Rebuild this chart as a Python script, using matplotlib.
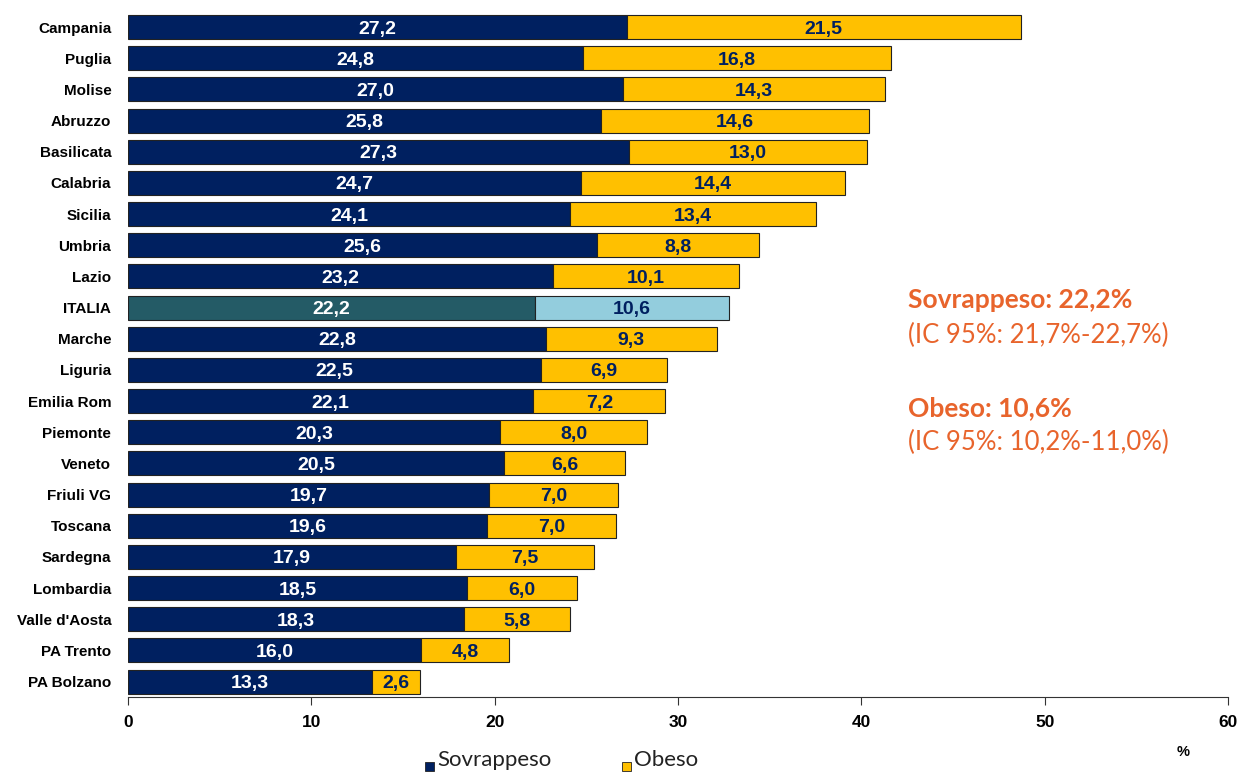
import matplotlib
matplotlib.use("Agg")
import matplotlib.pyplot as plt
from matplotlib.patches import Rectangle

regions = ["Campania", "Puglia", "Molise", "Abruzzo", "Basilicata", "Calabria", "Sicilia",
           "Umbria", "Lazio", "ITALIA", "Marche", "Liguria", "Emilia Rom", "Piemonte",
           "Veneto", "Friuli VG", "Toscana", "Sardegna", "Lombardia", "Valle d'Aosta",
           "PA Trento", "PA Bolzano"]
sovrappeso = [27.2, 24.8, 27.0, 25.8, 27.3, 24.7, 24.1, 25.6, 23.2, 22.2, 22.8, 22.5, 22.1,
              20.3, 20.5, 19.7, 19.6, 17.9, 18.5, 18.3, 16.0, 13.3]
obeso = [21.5, 16.8, 14.3, 14.6, 13.0, 14.4, 13.4, 8.8, 10.1, 10.6, 9.3, 6.9, 7.2,
         8.0, 6.6, 7.0, 7.0, 7.5, 6.0, 5.8, 4.8, 2.6]
xticks = [0, 10, 20, 30, 40, 50, 60]

NAVY = "#002060"
GOLD = "#FFC000"
TEAL = "#245B66"
LBLUE = "#93CDDD"
ORANGE = "#E8642C"

fig = plt.figure(figsize=(12.43, 7.72), dpi=100)
ax = fig.add_axes([0.103, 0.097, 0.885, 0.888])

ypos = list(range(len(regions)))
c1 = [TEAL if r == "ITALIA" else NAVY for r in regions]
c2 = [LBLUE if r == "ITALIA" else GOLD for r in regions]
h = 0.77
ax.barh(ypos, sovrappeso, height=h, color=c1, edgecolor="#222222", linewidth=0.8)
ax.barh(ypos, obeso, left=sovrappeso, height=h, color=c2, edgecolor="#222222", linewidth=0.8)

for y, s, o in zip(ypos, sovrappeso, obeso):
    ax.text(s / 2, y, f"{s:.1f}".replace(".", ","), ha="center", va="center_baseline",
            color="white", fontsize=14, fontweight="bold", family="Liberation Sans")
    ax.text(s + o / 2, y, f"{o:.1f}".replace(".", ","), ha="center", va="center_baseline",
            color=NAVY, fontsize=14, fontweight="bold", family="Liberation Sans")

ax.set_ylim(len(regions) - 0.5, -0.5)
ax.set_xlim(0, 60)
ax.set_yticks(ypos)
ax.set_yticklabels(regions, fontsize=11, fontweight="bold", family="Liberation Sans")
ax.tick_params(axis="y", length=0, pad=12)
ax.set_xticks(xticks)
ax.set_xticklabels([str(t) for t in xticks], fontsize=12.5, fontweight="bold", family="Liberation Sans")
ax.tick_params(axis="x", length=6, width=0.8, direction="out", pad=7, color="#333333")
for sp in ["top", "right", "left"]:
    ax.spines[sp].set_visible(False)
ax.spines["bottom"].set_color("#333333")
ax.spines["bottom"].set_linewidth(0.8)

fig.text(1183 / 1243, 1 - 752 / 772, "%", ha="center", va="center", fontsize=10.5,
         fontweight="bold", family="Liberation Sans")

# Annotation texts
fig.text(908 / 1243, 1 - 300 / 772, "Sovrappeso: 22,2%", ha="left", va="center",
         fontsize=19, fontweight="bold", color=ORANGE, family="Lato")
fig.text(908 / 1243, 1 - 335 / 772, "(IC 95%: 21,7%-22,7%)", ha="left", va="center",
         fontsize=18.5, color=ORANGE, family="Lato")
fig.text(908 / 1243, 1 - 408 / 772, "Obeso: 10,6%", ha="left", va="center",
         fontsize=19, fontweight="bold", color=ORANGE, family="Lato")
fig.text(908 / 1243, 1 - 442 / 772, "(IC 95%: 10,2%-11,0%)", ha="left", va="center",
         fontsize=18.5, color=ORANGE, family="Lato")

# Legend
for x0, col, lab in [(425, NAVY, "Sovrappeso"), (622, GOLD, "Obeso")]:
    fig.patches.append(Rectangle((x0 / 1243, 1 - 771 / 772), 9 / 1243, 9 / 772,
                                 transform=fig.transFigure, facecolor=col,
                                 edgecolor="#222222", linewidth=0.6))
    fig.text((x0 + 12) / 1243, 1 - 760 / 772, lab, ha="left", va="center",
             fontsize=16, family="Lato", color="#222222")

fig.savefig("out.png", dpi=100)
